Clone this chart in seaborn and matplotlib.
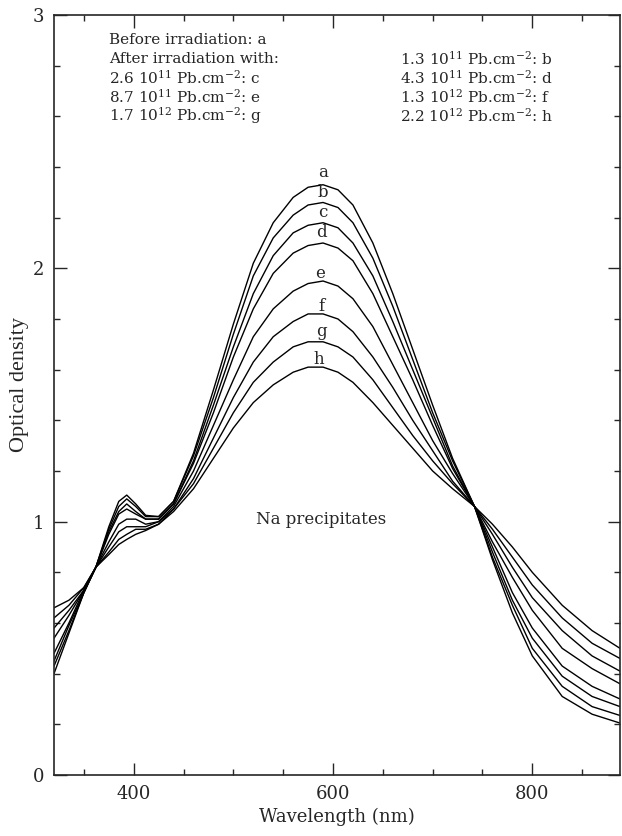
import numpy as np
import pandas as pd
import matplotlib
matplotlib.use("Agg")
import matplotlib.pyplot as plt
import seaborn as sns

wavelength = [320, 335, 350, 362, 375, 385, 393, 402, 412, 425, 440, 460, 480,
              500, 520, 540, 560, 575, 590, 605, 620, 640, 660, 680, 700, 720,
              742, 760, 780, 800, 830, 860, 888]

# optical density, one list per fluence
od_a = [0.40, 0.56, 0.72, 0.82, 0.98, 1.08, 1.105, 1.07, 1.025, 1.02, 1.08, 1.27, 1.52,
        1.78, 2.02, 2.18, 2.28, 2.32, 2.33, 2.31, 2.25, 2.10, 1.90, 1.68, 1.46, 1.25,
        1.06, 0.85, 0.64, 0.47, 0.31, 0.24, 0.205]
od_b = [0.43, 0.57, 0.72, 0.82, 0.97, 1.06, 1.09, 1.06, 1.02, 1.02, 1.08, 1.26, 1.49,
        1.74, 1.97, 2.12, 2.21, 2.25, 2.26, 2.24, 2.18, 2.04, 1.85, 1.64, 1.43, 1.24,
        1.06, 0.86, 0.67, 0.50, 0.35, 0.27, 0.235]
od_c = [0.45, 0.59, 0.72, 0.82, 0.96, 1.04, 1.07, 1.04, 1.01, 1.01, 1.07, 1.24, 1.46,
        1.69, 1.90, 2.05, 2.14, 2.17, 2.18, 2.16, 2.10, 1.97, 1.79, 1.60, 1.41, 1.22,
        1.06, 0.88, 0.69, 0.54, 0.39, 0.31, 0.27]
od_d = [0.48, 0.60, 0.73, 0.82, 0.95, 1.03, 1.05, 1.03, 1.01, 1.01, 1.07, 1.23, 1.43,
        1.65, 1.84, 1.98, 2.06, 2.09, 2.10, 2.08, 2.03, 1.90, 1.73, 1.56, 1.38, 1.21,
        1.06, 0.90, 0.72, 0.58, 0.43, 0.35, 0.30]
od_e = [0.54, 0.63, 0.73, 0.82, 0.92, 0.99, 1.01, 1.01, 0.99, 1.00, 1.06, 1.20, 1.38,
        1.56, 1.73, 1.84, 1.91, 1.94, 1.95, 1.93, 1.88, 1.77, 1.62, 1.47, 1.32, 1.19,
        1.06, 0.92, 0.78, 0.65, 0.50, 0.42, 0.36]
od_f = [0.58, 0.65, 0.73, 0.82, 0.90, 0.96, 0.98, 0.98, 0.98, 1.00, 1.05, 1.17, 1.33,
        1.49, 1.63, 1.73, 1.79, 1.82, 1.82, 1.80, 1.75, 1.65, 1.53, 1.40, 1.28, 1.16,
        1.06, 0.95, 0.82, 0.70, 0.57, 0.47, 0.41]
od_g = [0.62, 0.67, 0.74, 0.82, 0.88, 0.93, 0.95, 0.97, 0.97, 0.99, 1.05, 1.15, 1.29,
        1.43, 1.55, 1.63, 1.69, 1.71, 1.71, 1.69, 1.65, 1.56, 1.45, 1.34, 1.24, 1.15,
        1.06, 0.97, 0.86, 0.75, 0.62, 0.52, 0.46]
od_h = [0.66, 0.69, 0.74, 0.82, 0.87, 0.91, 0.93, 0.95, 0.965, 0.99, 1.04, 1.13, 1.25,
        1.37, 1.47, 1.54, 1.59, 1.61, 1.61, 1.59, 1.55, 1.47, 1.38, 1.29, 1.20, 1.13,
        1.06, 0.99, 0.90, 0.80, 0.67, 0.57, 0.50]

curve_names = ["a", "b", "c", "d", "e", "f", "g", "h"]
curve_values = [od_a, od_b, od_c, od_d, od_e, od_f, od_g, od_h]

# where the letters sit above each peak
label_x = [590, 590, 590, 588, 587, 588, 588, 586]
label_y = [2.38, 2.30, 2.22, 2.14, 1.98, 1.85, 1.75, 1.64]

legend_left = ["Before irradiation: a",
               "After irradiation with:",
               "2.6 10$^{11}$ Pb.cm$^{-2}$: c",
               "8.7 10$^{11}$ Pb.cm$^{-2}$: e",
               "1.7 10$^{12}$ Pb.cm$^{-2}$: g"]
legend_right = ["1.3 10$^{11}$ Pb.cm$^{-2}$: b",
                "4.3 10$^{11}$ Pb.cm$^{-2}$: d",
                "1.3 10$^{12}$ Pb.cm$^{-2}$: f",
                "2.2 10$^{12}$ Pb.cm$^{-2}$: h"]

rows = []
for name, vals in zip(curve_names, curve_values):
    for w, v in zip(wavelength, vals):
        rows.append((name, w, v))
df = pd.DataFrame(rows, columns=["curve", "wavelength", "od"])

sns.set_style("ticks")
plt.rcParams["font.family"] = ["DejaVu Serif"]
plt.rcParams["mathtext.fontset"] = "dejavuserif"

fig = plt.figure(figsize=(6.22, 8.36), dpi=100)
ax = fig.add_axes([54 / 622, 61 / 836, 566 / 622, 760 / 836])

sns.lineplot(data=df, x="wavelength", y="od", hue="curve",
             palette={n: "black" for n in curve_names}, linewidth=1.0,
             legend=False, ax=ax, sort=False, estimator=None)

ax.set_xlim(320, 888)
ax.set_ylim(0, 3)
ax.set_xticks([400, 600, 800])
ax.set_xticks(np.arange(350, 888, 50), minor=True)
ax.set_yticks([0, 1, 2, 3])
ax.set_yticks(np.arange(0, 3.01, 0.2), minor=True)
ax.tick_params(which="both", direction="in", top=True, right=True,
               width=1.0, labelsize=13, pad=7)
ax.tick_params(which="major", length=9)
ax.tick_params(which="minor", length=4.5)
for s in ax.spines.values():
    s.set_linewidth(1.2)

ax.set_xlabel("Wavelength (nm)", fontsize=13)
ax.xaxis.set_label_coords(0.5, -(808 - 775) / 760)
ax.set_ylabel("Optical density", fontsize=16, family="Liberation Serif")
ax.yaxis.set_label_coords(-(54 - 29) / 566, (775 - 384) / 760)

for n, x, y in zip(curve_names, label_x, label_y):
    ax.text(x, y, n, fontsize=12, ha="center", va="center")

for i, t in enumerate(legend_left):
    ax.text((109 - 54) / 566, 1 - (i * 19 + 25) / 760, t,
            transform=ax.transAxes, fontsize=11, ha="left", va="center")
for i, t in enumerate(legend_right):
    ax.text((400 - 54) / 566, 1 - ((i + 1) * 19 + 25) / 760, t,
            transform=ax.transAxes, fontsize=11, ha="left", va="center")

ax.text(588, 1.01, "Na precipitates", fontsize=12, ha="center", va="center")

fig.savefig("out.png", dpi=100)
